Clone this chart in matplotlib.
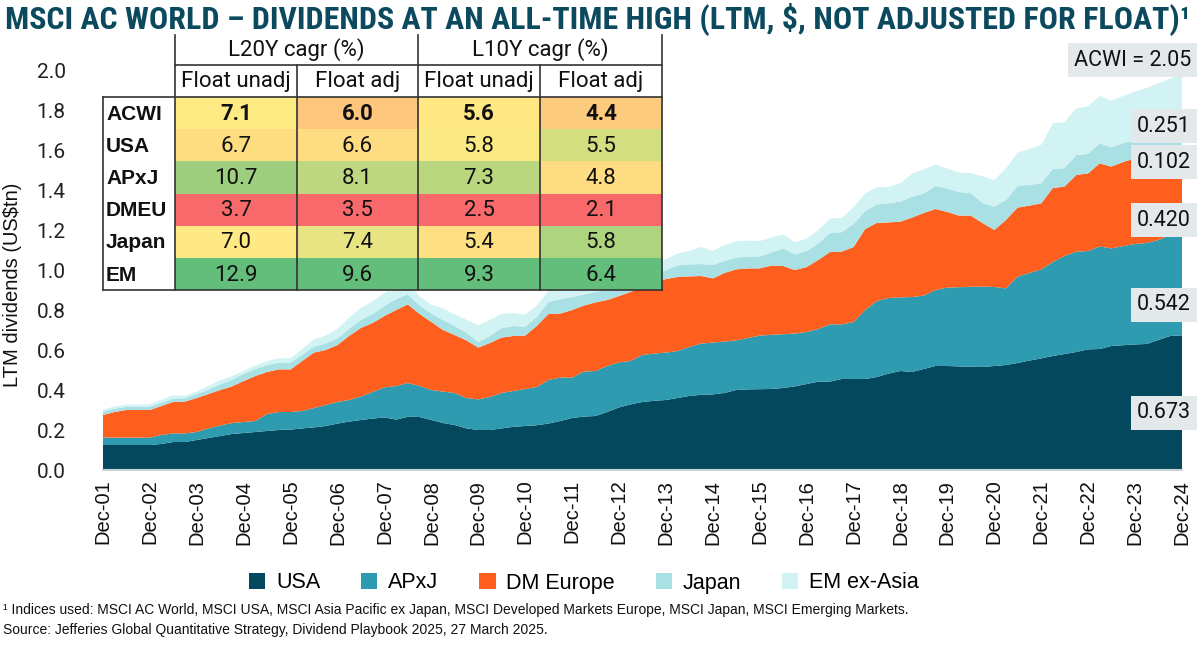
import numpy as np
import pandas as pd
import matplotlib
matplotlib.use("Agg")
import matplotlib.pyplot as plt
from matplotlib.patches import Rectangle
from matplotlib import font_manager as fm

# ---------------- data ----------------
quarters = pd.date_range("2001-12-31", "2024-12-31", freq="QE")

usa = [.125, .125, .125, .125, .125, .13, .14, .14, .15, .16,
       .17, .18, .185, .19, .195, .20, .202, .208, .213, .22,
       .232, .242, .25, .257, .263, .252, .266, .265, .25, .235,
       .225, .208, .20, .20, .208, .216, .22, .224, .232, .245,
       .26, .267, .27, .29, .313, .328, .34, .346, .35, .36,
       .37, .376, .378, .385, .40, .403, .404, .405, .41, .418,
       .43, .442, .442, .455, .455, .455, .465, .482, .495, .49,
       .505, .52, .52, .518, .516, .515, .52, .525, .535, .547,
       .558, .57, .58, .59, .603, .605, .62, .624, .628, .63,
       .65, .67, .673]

apxj = [.037, .037, .037, .037, .037, .045, .043, .043, .040, .048,
        .052, .055, .055, .055, .085, .090, .088, .087, .097, .105,
        .108, .108, .117, .133, .150, .168, .169, .155, .150, .157,
        .160, .152, .153, .165, .177, .179, .185, .191, .218, .217,
        .202, .225, .225, .230, .225, .217, .235, .236, .237, .235,
        .245, .256, .259, .257, .248, .257, .268, .271, .269, .264,
        .260, .263, .286, .273, .285, .345, .380, .378, .368, .375,
        .367, .380, .392, .396, .400, .402, .395, .383, .432, .438,
        .445, .470, .490, .502, .492, .513, .488, .496, .502, .505,
        .500, .505, .512]

dm_europe = [.113, .128, .138, .138, .138, .145, .157, .159, .170, .172,
             .178, .183, .205, .225, .210, .213, .213, .250, .277, .275,
             .285, .320, .343, .345, .357, .380, .393, .360, .340, .308,
             .290, .288, .259, .270, .277, .275, .267, .305, .330, .320,
             .338, .330, .343, .330, .332, .345, .340, .353, .368, .370,
             .353, .338, .321, .343, .355, .348, .336, .346, .341, .318,
             .325, .345, .362, .364, .375, .405, .390, .378, .379, .397,
             .413, .405, .378, .358, .356, .318, .285, .342, .345, .337,
             .330, .370, .347, .383, .388, .415, .409, .420, .428, .440,
             .440, .435, .440]

japan = [.017, .016, .016, .016, .017, .016, .016, .017, .019, .022,
         .028, .033, .036, .035, .034, .034, .034, .032, .030, .032,
         .033, .036, .040, .045, .050, .055, .050, .043, .042, .050,
         .045, .038, .028, .035, .047, .050, .045, .045, .060, .072,
         .065, .055, .052, .050, .048, .047, .045, .043, .045, .058,
         .060, .060, .067, .060, .059, .059, .060, .065, .088, .078,
         .080, .083, .095, .097, .115, .090, .093, .096, .100, .105,
         .097, .115, .117, .118, .112, .100, .117, .100, .108, .104,
         .100, .095, .092, .100, .098, .100, .096, .095, .092, .095,
         .098, .100, .102]

em_ex_asia = [.011, .011, .011, .011, .011, .015, .017, .012, .013, .018,
              .020, .018, .015, .017, .020, .021, .022, .028, .035, .040,
              .048, .055, .060, .062, .065, .067, .060, .045, .043, .058,
              .058, .065, .085, .080, .072, .065, .060, .058, .055, .055,
              .055, .055, .055, .055, .055, .054, .054, .054, .053, .060,
              .067, .085, .070, .080, .081, .080, .077, .075, .070, .060,
              .062, .066, .071, .072, .083, .088, .085, .082, .092, .115,
              .120, .108, .100, .098, .100, .134, .133, .158, .167, .178,
              .193, .229, .230, .233, .237, .237, .234, .235, .242, .240,
              .245, .248, .251]

series_names = ["USA", "APxJ", "DM Europe", "Japan", "EM ex-Asia"]
end_labels = ["0.673", "0.542", "0.420", "0.102", "0.251"]
end_label_y = [0.285, 0.825, 1.25, 1.54, 1.72]
acwi_label = "ACWI = 2.05"
acwi_value = 2.05

table_rows = ["ACWI", "USA", "APxJ", "DMEU", "Japan", "EM"]
table_groups = ["L20Y cagr (%)", "L10Y cagr (%)"]
table_cols = ["Float unadj", "Float adj", "Float unadj", "Float adj"]
l20_unadj = [7.1, 6.7, 10.7, 3.7, 7.0, 12.9]
l20_adj = [6.0, 6.6, 8.1, 3.5, 7.4, 9.6]
l10_unadj = [5.6, 5.8, 7.3, 2.5, 5.4, 9.3]
l10_adj = [4.4, 5.5, 4.8, 2.1, 5.8, 6.4]

title = "MSCI AC WORLD \u2013 DIVIDENDS AT AN ALL-TIME HIGH (LTM, $, NOT ADJUSTED FOR FLOAT)\u00b9"
footnote1 = ("\u00b9 Indices used: MSCI AC World, MSCI USA, MSCI Asia Pacific ex Japan, "
             "MSCI Developed Markets Europe, MSCI Japan, MSCI Emerging Markets.")
footnote2 = "Source: Jefferies Global Quantitative Strategy, Dividend Playbook 2025, 27 March 2025."

# ---------------- fonts ----------------
names = {f.name for f in fm.fontManager.ttflist}
def pick(*cands):
    for c in cands:
        if c in names:
            return c
    return "DejaVu Sans"

F_NUM = pick("Roboto", "DejaVu Sans")
F_ARIAL = pick("Liberation Sans", "DejaVu Sans")


def title_font():
    cands = []
    for f in fm.fontManager.ttflist:
        low = (f.name + " " + f.fname).lower()
        cond = ("condensed" in low or "narrow" in low or f.stretch in
                ("condensed", "semi-condensed", "extra-condensed"))
        if not cond or "italic" in low or "oblique" in low:
            continue
        try:
            wt = int(f.weight)
        except Exception:
            wt = {"bold": 700, "normal": 400}.get(str(f.weight), 400)
        if wt < 600:
            continue
        score = 0
        if "semicondensed" in low.replace("-", "") or "semi" in low:
            score -= 2
        if "extracondensed" in low.replace("-", "") or "extra" in low:
            score -= 1
        if wt == 700:
            score += 2
        elif wt == 800:
            score += 1
        for i, key in enumerate(["roboto", "noto", "open", "liberation", "dejavu"]):
            if key in low:
                score += 5 - i
                break
        cands.append((score, f.fname))
    if cands:
        cands.sort(reverse=True)
        return fm.FontProperties(fname=cands[0][1])
    return fm.FontProperties(family="DejaVu Sans", weight="bold")


colors = ["#03485d", "#2e9bb0", "#fe5f1f", "#a9e0e3", "#d1f3f3"]
W, H = 1200, 650

fig = plt.figure(figsize=(12, 6.5), dpi=100)
fig.patch.set_facecolor("white")

x0, x1, ytop, ybot = 103, 1182, 70, 470
ax = fig.add_axes([x0 / W, 1 - ybot / H, (x1 - x0) / W, (ybot - ytop) / H])
polys = ax.stackplot(quarters, usa, apxj, dm_europe, japan, em_ex_asia,
                     colors=colors, labels=series_names, linewidth=0)
ax.set_ylim(0, 2.0)
ax.set_xlim(quarters[0], quarters[-1])

yt = np.round(np.arange(0, 2.01, 0.2), 1)
ax.set_yticks(yt)
ax.set_yticklabels([f"{v:.1f}" for v in yt], fontsize=15, family=F_NUM, color="#222222")
dec = [d for d in quarters if d.month == 12]
ax.set_xticks(dec)
ax.set_xticklabels([d.strftime("Dec-%y") for d in dec], rotation=90,
                   fontsize=14.5, family=F_ARIAL, color="#111111")
ax.tick_params(axis="y", length=0, pad=27)
ax.tick_params(axis="x", length=0, pad=7)
for s in ["top", "right", "left"]:
    ax.spines[s].set_visible(False)
ax.spines["bottom"].set_color("#c9d3d6")
ax.spines["bottom"].set_linewidth(1.5)
ax.set_facecolor("none")

fig.text(13 / W, 1 - 285 / H, "LTM dividends (US$tn)", rotation=90, ha="center",
         va="center", fontsize=14.5, family=F_ARIAL, color="#111111")

# end labels
tr = ax.get_yaxis_transform()
lx = (1191 - x0) / (x1 - x0)
box = dict(boxstyle="square,pad=0.28", fc="#e3e9eb", ec="none")
for lab, yv in zip(end_labels, end_label_y):
    ax.text(lx, yv, lab, transform=tr, ha="right", va="center", fontsize=15.5,
            family=F_NUM, color="#111111", bbox=box, clip_on=False, zorder=10)
ax.text(lx, acwi_value, acwi_label, transform=tr, ha="right", va="center", fontsize=15.5,
        family=F_NUM, color="#111111", bbox=box, clip_on=False, zorder=10)

# ---------------- table ----------------
tax = fig.add_axes([0, 0, 1, 1])
tax.set_xlim(0, W)
tax.set_ylim(H, 0)
tax.axis("off")
tax.patch.set_alpha(0)

RED = np.array([0xF8, 0x69, 0x6B]) / 255
YEL = np.array([0xFF, 0xEB, 0x84]) / 255
GRN = np.array([0x63, 0xBE, 0x7B]) / 255
def scale_colors(vals):
    v = np.array(vals, float)
    lo, hi, mid = v.min(), v.max(), np.median(v)
    out = []
    for x in v:
        if x <= mid:
            t = (x - lo) / (mid - lo)
            out.append(RED + (YEL - RED) * t)
        else:
            t = (x - mid) / (hi - mid)
            out.append(YEL + (GRN - YEL) * t)
    return out

cx = [103, 175, 297, 418, 540, 662]
ry = [97 + i * 32.2 for i in range(7)]
cols_vals = [l20_unadj, l20_adj, l10_unadj, l10_adj]
lc = "#333333"
lw = 1.2
tax.add_patch(Rectangle((cx[1], 35), cx[5] - cx[1], 62, fc="white", ec="none", zorder=1))
tax.add_patch(Rectangle((cx[0], ry[0]), cx[1] - cx[0], ry[6] - ry[0], fc="white", ec="none", zorder=1))
for c, vals in enumerate(cols_vals):
    cc = scale_colors(vals)
    for r, v in enumerate(vals):
        tax.add_patch(Rectangle((cx[c + 1], ry[r]), cx[c + 2] - cx[c + 1], ry[r + 1] - ry[r],
                                fc=cc[r], ec="none", zorder=1))
        tax.text((cx[c + 1] + cx[c + 2]) / 2, (ry[r] + ry[r + 1]) / 2 + 1, f"{v:.1f}",
                 ha="center", va="center", fontsize=16, family=F_NUM,
                 weight="bold" if r == 0 else "normal", color="#111111", zorder=3)
for r, lab in enumerate(table_rows):
    tax.text(cx[0] + 3, (ry[r] + ry[r + 1]) / 2 + 1, lab, ha="left", va="center",
             fontsize=15, family=F_ARIAL, weight="bold", color="#111111", zorder=3)
for g, lab in enumerate(table_groups):
    tax.text((cx[1 + 2 * g] + cx[3 + 2 * g]) / 2, 50, lab, ha="center", va="center",
             fontsize=16, family=F_NUM, color="#111111", zorder=3)
for c, lab in enumerate(table_cols):
    tax.text((cx[c + 1] + cx[c + 2]) / 2, 81, lab, ha="center", va="center",
             fontsize=16, family=F_NUM, color="#111111", zorder=3)
for xv in [cx[1], cx[3], cx[5]]:
    tax.plot([xv, xv], [35, ry[6]], color=lc, lw=lw, zorder=4)
for xv in [cx[2], cx[4]]:
    tax.plot([xv, xv], [65, ry[6]], color=lc, lw=lw, zorder=4)
tax.plot([cx[0], cx[0]], [ry[0], ry[6]], color=lc, lw=lw, zorder=4)
tax.plot([cx[1], cx[5]], [65, 65], color=lc, lw=lw, zorder=4)
tax.plot([cx[0], cx[5]], [ry[0], ry[0]], color=lc, lw=lw, zorder=4)
tax.plot([cx[0], cx[5]], [ry[6], ry[6]], color=lc, lw=lw, zorder=4)

# ---------------- legend ----------------
fig.legend(polys, series_names, loc="center", bbox_to_anchor=(584 / W, 1 - 583 / H),
           ncol=5, frameon=False, prop={"family": F_ARIAL, "size": 15.5},
           handlelength=0.75, handleheight=0.75, handletextpad=0.5, columnspacing=1.9)

# ---------------- texts ----------------
fig.text(3 / W, 1 - 610 / H, footnote1, fontsize=10, family=F_ARIAL, va="center", color="#111111")
fig.text(3 / W, 1 - 630 / H, footnote2, fontsize=10, family=F_ARIAL, va="center", color="#111111")

tp = title_font()
tp.set_size(24)
t = fig.text(5 / W, 1 - 19 / H, title, fontproperties=tp, color="#0b4a5e", va="center", ha="left")
fig.canvas.draw()
w = t.get_window_extent(renderer=fig.canvas.get_renderer()).width
t.set_fontsize(24 * 1186 / w)

fig.savefig("out.png", dpi=100, facecolor="white")
